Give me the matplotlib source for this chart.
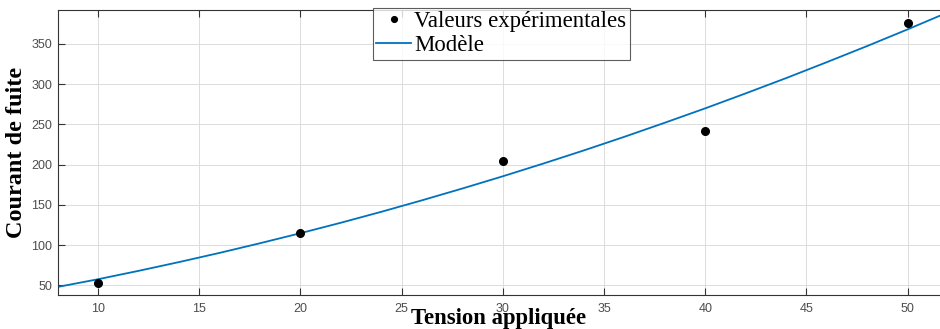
import matplotlib.pyplot as plt

# Experimental points
tension = [10, 20, 30, 40, 50]
courant = [53, 115, 204, 242, 376]

# Model curve, values
model_x = [8, 10, 12, 14, 16, 18, 20, 22, 24, 26, 28, 30, 32, 34, 36, 38, 40, 42, 44, 46, 48, 50, 52]
model_y = [48, 57.6, 68, 78.9, 90.3, 102.3, 114.8, 127.8, 141.4, 155.6, 170.3, 185.5,
           201.3, 217.6, 234.5, 252, 269.9, 288.5, 307.5, 327.2, 347.3, 368, 389.3]

xticks = [10, 15, 20, 25, 30, 35, 40, 45, 50]
yticks = [50, 100, 150, 200, 250, 300, 350]

fig = plt.figure(figsize=(9.4, 3.29), dpi=100)
ax = fig.add_axes([0.0612, 0.1033, 0.9388, 0.8649])

ax.plot(tension, courant, "o", color="black", markersize=5.5, label="Valeurs expérimentales", zorder=3)
ax.plot(model_x, model_y, color="#0072BD", linewidth=1.3, label="Modèle")

ax.set_xlim(8, 51.6)
ax.set_ylim(38, 391.5)
ax.set_xticks(xticks)
ax.set_yticks(yticks)
ax.grid(True, color="#dcdcdc", linewidth=0.7)
ax.tick_params(direction="in", top=True, right=False, length=5, width=0.8,
               labelsize=9, labelcolor="#4d4d4d", color="#333333")
for lab in ax.get_xticklabels() + ax.get_yticklabels():
    lab.set_fontfamily("Liberation Sans")
ax.tick_params(axis="x", pad=6)
ax.tick_params(axis="y", pad=4)
ax.spines["right"].set_visible(False)
for s in ["top", "bottom", "left"]:
    ax.spines[s].set_color("#333333")
    ax.spines[s].set_linewidth(0.8)

ax.set_xlabel("Tension appliquée", fontfamily="Liberation Serif", fontweight="bold",
              fontsize=16.4, labelpad=-5)
ax.set_ylabel("Courant de fuite", fontfamily="Liberation Serif", fontweight="bold",
              fontsize=17.5, labelpad=3)

leg = fig.legend(loc="upper left", bbox_to_anchor=(373 / 940, 1 - 8 / 329),
                 prop={"family": "Liberation Serif", "size": 16.4},
                 frameon=True, fancybox=False, edgecolor="#333333",
                 borderpad=0.15, labelspacing=0.12, handlelength=1.5,
                 handletextpad=0.15, borderaxespad=0, markerscale=0.75)
leg.get_frame().set_linewidth(0.8)

fig.savefig("out.png", dpi=100)
